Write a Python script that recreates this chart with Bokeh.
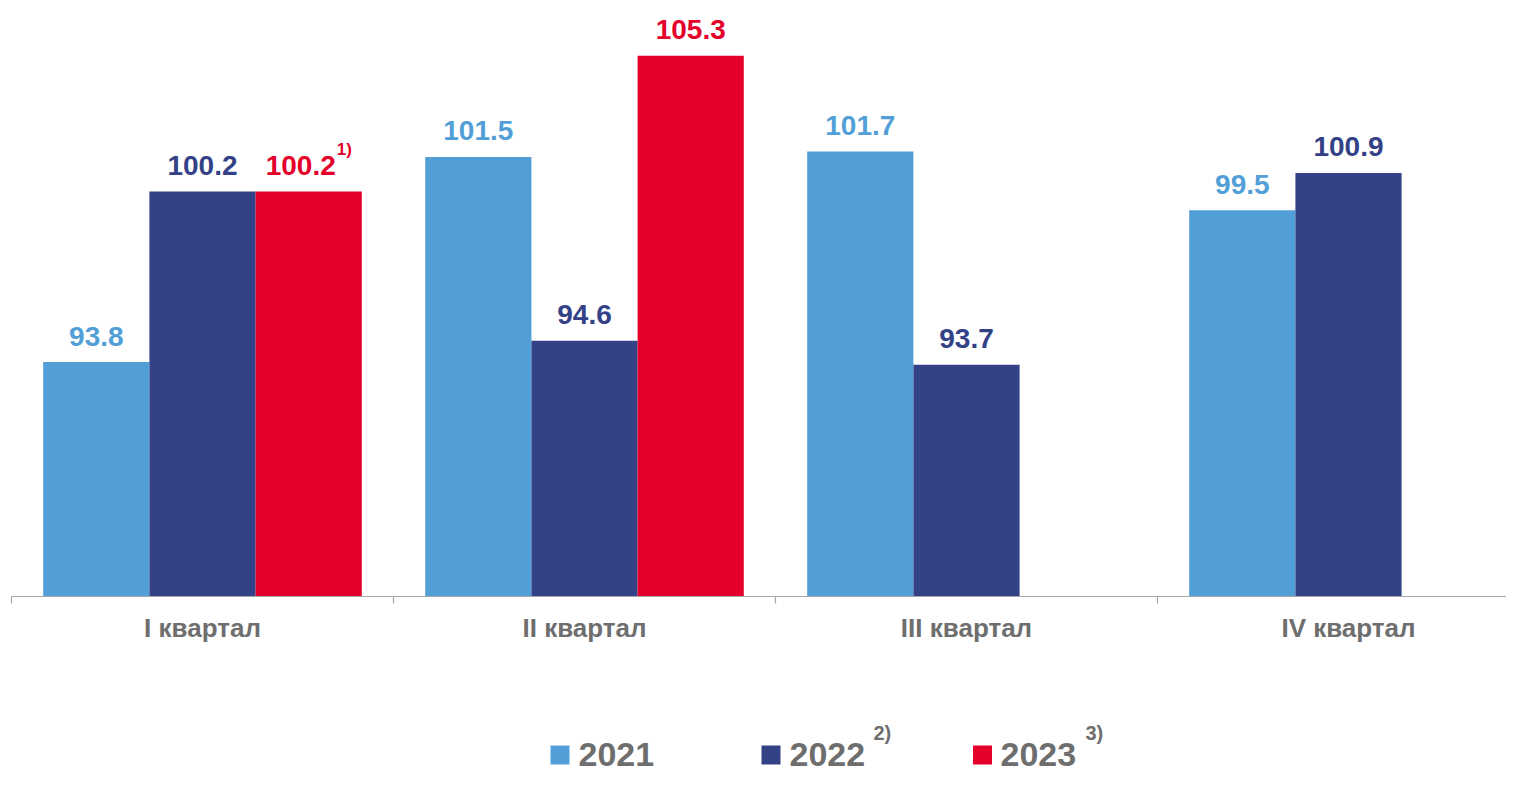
from bokeh.plotting import figure
from bokeh.models import Range1d, ColumnDataSource
from bokeh.core.properties import value
from bokeh.embed import file_html
from bokeh.resources import INLINE

# ---- data ----
quarters = ["I квартал", "II квартал", "III квартал", "IV квартал"]
years = ["2021", "2022", "2023"]
v2021 = [93.8, 101.5, 101.7, 99.5]
v2022 = [100.2, 94.6, 93.7, 100.9]
v2023 = [100.2, 105.3, None, None]
notes2023 = ["1)", "", "", ""]
legend_notes = ["", "2)", "3)"]
colors = ["#529FD7", "#334287", "#E4002B"]
BASE = 85.0

# ---- layout ----
W, H = 1506, 772
PX_X = 382.0          # pixels per category
PX_Y = 26.64          # pixels per unit
FONT = value("Liberation Sans")
GRAY = "#6E6E6E"
TXT_FIX = -10         # baseline correction for svg text

x0 = -11.0 / PX_X
y_top = BASE + 596.0 / PX_Y
p = figure(width=W, height=H,
           x_range=Range1d(x0, x0 + W / PX_X),
           y_range=Range1d(y_top - H / PX_Y, y_top),
           output_backend="svg", toolbar_location=None, min_border=0)
p.axis.visible = False
p.grid.visible = False
p.outline_line_color = None
p.background_fill_color = "white"


def dx(px):
    return (px - 11) / PX_X


def dy(py):
    return BASE + (596 - py) / PX_Y


series = [v2021, v2022, v2023]
offsets = [-0.278, 0.0, 0.278]
bar_w = 0.278

for k, (s, vals, off, col) in enumerate(zip(years, series, offsets, colors)):
    idx = [i for i, v in enumerate(vals) if v is not None]
    xs = [i + 0.5 + off for i in idx]
    tops = [vals[i] for i in idx]
    xoff = [(-8 if (k == 2 and notes2023[i]) else 0) for i in idx]
    src = ColumnDataSource(dict(x=xs, top=tops, xoff=xoff,
                                lab=[f"{v:.1f}" for v in tops]))
    p.vbar(x="x", top="top", bottom=BASE, width=bar_w, source=src,
           fill_color=col, line_color=None)
    p.text(x="x", y="top", text="lab", source=src, x_offset="xoff",
           y_offset=-16 + TXT_FIX,
           text_align="center", text_baseline="alphabetic",
           text_font=FONT, text_font_style="bold", text_font_size="28px",
           text_color=col)

# superscript notes on 2023 labels
nx = [i + 0.5 + offsets[2] for i, n in enumerate(notes2023) if n]
ny = [v2023[i] for i, n in enumerate(notes2023) if n]
nt = [n for n in notes2023 if n]
p.text(x=nx, y=ny, text=nt, x_offset=28, y_offset=-32 + TXT_FIX,
       text_align="left", text_baseline="alphabetic",
       text_font=FONT, text_font_style="bold", text_font_size="17px",
       text_color=colors[2])

# category axis line and ticks
n = len(quarters)
p.segment(x0=[0], y0=[BASE], x1=[x0 + W / PX_X], y1=[BASE],
          line_color="#A6A6A6", line_width=1.2)
p.segment(x0=list(range(n)), y0=[BASE] * n, x1=list(range(n)),
          y1=[BASE - 7 / PX_Y] * n, line_color="#A6A6A6", line_width=1.2)
p.text(x=[i + 0.5 for i in range(n)], y=[BASE] * n, text=quarters,
       y_offset=41 + TXT_FIX, text_align="center", text_baseline="alphabetic",
       text_font=FONT, text_font_style="bold", text_font_size="26px",
       text_color=GRAY)

# legend
sq_px = [559.5, 770.5, 982.0]
tx_px = [578, 789, 1000]
sup_px = [0, 873, 1085]
base_px = 764
leg_sq_y = base_px - 9.5
leg_txt_y = base_px + TXT_FIX
leg_sup_y = base_px - 22 + TXT_FIX
p.scatter(x=[dx(v) for v in sq_px], y=[dy(leg_sq_y)] * 3, marker="square",
          size=19, fill_color=colors, line_color=None)
p.text(x=[dx(v) for v in tx_px], y=[dy(leg_txt_y)] * 3, text=years,
       text_align="left", text_baseline="alphabetic",
       text_font=FONT, text_font_style="bold", text_font_size="34px",
       text_color=GRAY)
p.text(x=[dx(sup_px[i]) for i in (1, 2)], y=[dy(leg_sup_y)] * 2,
       text=[legend_notes[i] for i in (1, 2)],
       text_align="left", text_baseline="alphabetic",
       text_font=FONT, text_font_style="bold", text_font_size="20px",
       text_color=GRAY)

open("out.html", "w").write(file_html(p, INLINE))
